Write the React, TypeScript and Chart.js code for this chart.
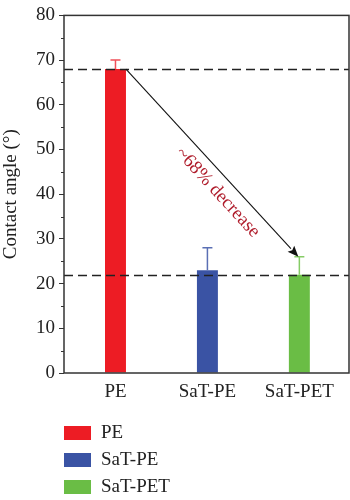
import React, { useEffect, useRef } from "react";
import { Chart, registerables } from "chart.js";

Chart.register(...registerables);

const categories = ["PE", "SaT-PE", "SaT-PET"];
const contactAngles = [68, 23, 22];
const errorUpper = [70, 28, 26];
const barColors = ["#ED1C24", "#3A53A4", "#6ABD45"];
const errorColors = ["#F0505A", "#5A6FB4", "#86CC66"];
const referenceLines = [68, 22];
const arrowFromValue = 68;
const arrowToValue = 26;
const annotationText = "~68% decrease";
const yTitle = "Contact angle (°)";
const yMin = 0;
const yMax = 80;
const yStep = 10;
const yMinorStep = 5;
const xMin = -0.56;
const xMax = 2.54;

const FONT = "'Liberation Serif', 'Times New Roman', serif";

const overlayPlugin = {
  id: "overlay",
  afterDatasetsDraw(chart: any) {
    const ctx = chart.ctx;
    const area = chart.chartArea;
    const y = chart.scales.y;
    const meta = chart.getDatasetMeta(0);

    // error bars
    meta.data.forEach((bar: any, i: number) => {
      const top = y.getPixelForValue(contactAngles[i]);
      const up = y.getPixelForValue(errorUpper[i]);
      ctx.save();
      ctx.strokeStyle = errorColors[i];
      ctx.lineWidth = 1.5;
      ctx.beginPath();
      ctx.moveTo(bar.x, top);
      ctx.lineTo(bar.x, up);
      ctx.moveTo(bar.x - 5, up);
      ctx.lineTo(bar.x + 5, up);
      ctx.stroke();
      ctx.restore();
    });

    // dashed reference lines
    ctx.save();
    ctx.strokeStyle = "#222";
    ctx.lineWidth = 1.3;
    ctx.setLineDash([9, 5]);
    referenceLines.forEach((v) => {
      const py = Math.round(y.getPixelForValue(v)) + 0.5;
      ctx.beginPath();
      ctx.moveTo(area.left, py);
      ctx.lineTo(area.right, py);
      ctx.stroke();
    });
    ctx.restore();

    // arrow
    const b0 = meta.data[0];
    const b2 = meta.data[2];
    const x1 = b0.x + b0.width / 2;
    const y1 = y.getPixelForValue(arrowFromValue);
    const x2 = b2.x - 1;
    const y2 = y.getPixelForValue(arrowToValue);
    const ang = Math.atan2(y2 - y1, x2 - x1);
    const headLen = 11;
    const headHalf = 4.5;
    ctx.save();
    ctx.strokeStyle = "#111";
    ctx.fillStyle = "#111";
    ctx.lineWidth = 1.1;
    ctx.beginPath();
    ctx.moveTo(x1, y1);
    ctx.lineTo(x2 - Math.cos(ang) * headLen, y2 - Math.sin(ang) * headLen);
    ctx.stroke();
    ctx.translate(x2, y2);
    ctx.rotate(ang);
    ctx.beginPath();
    ctx.moveTo(0, 0);
    ctx.lineTo(-headLen, -headHalf);
    ctx.lineTo(-headLen + 2, 0);
    ctx.lineTo(-headLen, headHalf);
    ctx.closePath();
    ctx.fill();
    ctx.restore();

    // annotation text
    const len = Math.hypot(x2 - x1, y2 - y1);
    const dx = (x2 - x1) / len;
    const dy = (y2 - y1) / len;
    const t = 0.6 * len;
    const off = 16;
    const cx = x1 + dx * t - dy * off;
    const cy = y1 + dy * t + dx * off;
    ctx.save();
    ctx.translate(cx, cy);
    ctx.rotate(ang);
    ctx.fillStyle = "#B01E2D";
    ctx.font = `19px ${FONT}`;
    ctx.textAlign = "center";
    ctx.textBaseline = "middle";
    ctx.fillText(annotationText, 0, 0);
    ctx.restore();
  },
  afterDraw(chart: any) {
    const ctx = chart.ctx;
    const area = chart.chartArea;
    const y = chart.scales.y;

    // frame
    ctx.save();
    ctx.strokeStyle = "#333";
    ctx.lineWidth = 1.5;
    ctx.strokeRect(area.left, area.top, area.right - area.left, area.bottom - area.top);

    // minor ticks
    ctx.lineWidth = 1;
    ctx.beginPath();
    for (let v = yMin + yMinorStep; v < yMax; v += yStep) {
      const py = Math.round(y.getPixelForValue(v)) + 0.5;
      ctx.moveTo(area.left - 3, py);
      ctx.lineTo(area.left, py);
    }
    ctx.stroke();
    ctx.restore();

    // legend
    ctx.save();
    ctx.font = `19px ${FONT}`;
    ctx.textBaseline = "middle";
    ctx.textAlign = "left";
    const legendTop = 426;
    const legendGap = 27;
    categories.forEach((c, i) => {
      const ty = legendTop + i * legendGap;
      ctx.fillStyle = barColors[i];
      ctx.fillRect(area.left, ty, 27, 14);
      ctx.fillStyle = "#222";
      ctx.fillText(c, area.left + 37, ty + 7.5);
    });
    ctx.restore();
  },
};

export default function App() {
  const ref = useRef<HTMLCanvasElement | null>(null);

  useEffect(() => {
    document.body.style.margin = "0";
    const canvas = ref.current;
    if (!canvas) return;
    const chart = new Chart(canvas, {
      type: "bar",
      data: {
        datasets: [
          {
            data: categories.map((_, i) => ({ x: i, y: contactAngles[i] })),
            backgroundColor: barColors,
            borderWidth: 0,
            barPercentage: 0.228,
            categoryPercentage: 1,
          },
        ],
      },
      options: {
        animation: false,
        responsive: false,
        devicePixelRatio: 1,
        layout: { padding: { top: 12, right: 1, left: 0, bottom: 87 } },
        plugins: { legend: { display: false }, tooltip: { enabled: false } },
        scales: {
          x: {
            type: "linear",
            min: xMin,
            max: xMax,
            offset: false,
            grid: { display: false, drawTicks: false },
            border: { display: false },
            afterBuildTicks: (s: any) => {
              s.ticks = categories.map((_, i) => ({ value: i }));
            },
            ticks: {
              color: "#222",
              font: { family: FONT, size: 19 },
              padding: 8,
              autoSkip: false,
              maxRotation: 0,
              callback: (v: any) => categories[v] ?? "",
            },
            afterFit: (s: any) => {
              s.height = 40;
            },
          },
          y: {
            min: yMin,
            max: yMax,
            grid: {
              drawOnChartArea: false,
              tickLength: 5,
              color: "#333",
              lineWidth: 1,
            },
            border: { display: false },
            ticks: {
              stepSize: yStep,
              color: "#222",
              font: { family: FONT, size: 19 },
              padding: 4,
            },
            title: {
              display: true,
              text: yTitle,
              color: "#222",
              font: { family: FONT, size: 19 },
              padding: 0,
            },
            afterFit: (s: any) => {
              s.width = 64;
            },
          },
        },
      },
      plugins: [overlayPlugin],
    });
    return () => chart.destroy();
  }, []);

  return (
    <div style={{ width: 350, height: 500 }}>
      <canvas ref={ref} width={350} height={500} style={{ width: 350, height: 500, display: "block" }} />
    </div>
  );
}
